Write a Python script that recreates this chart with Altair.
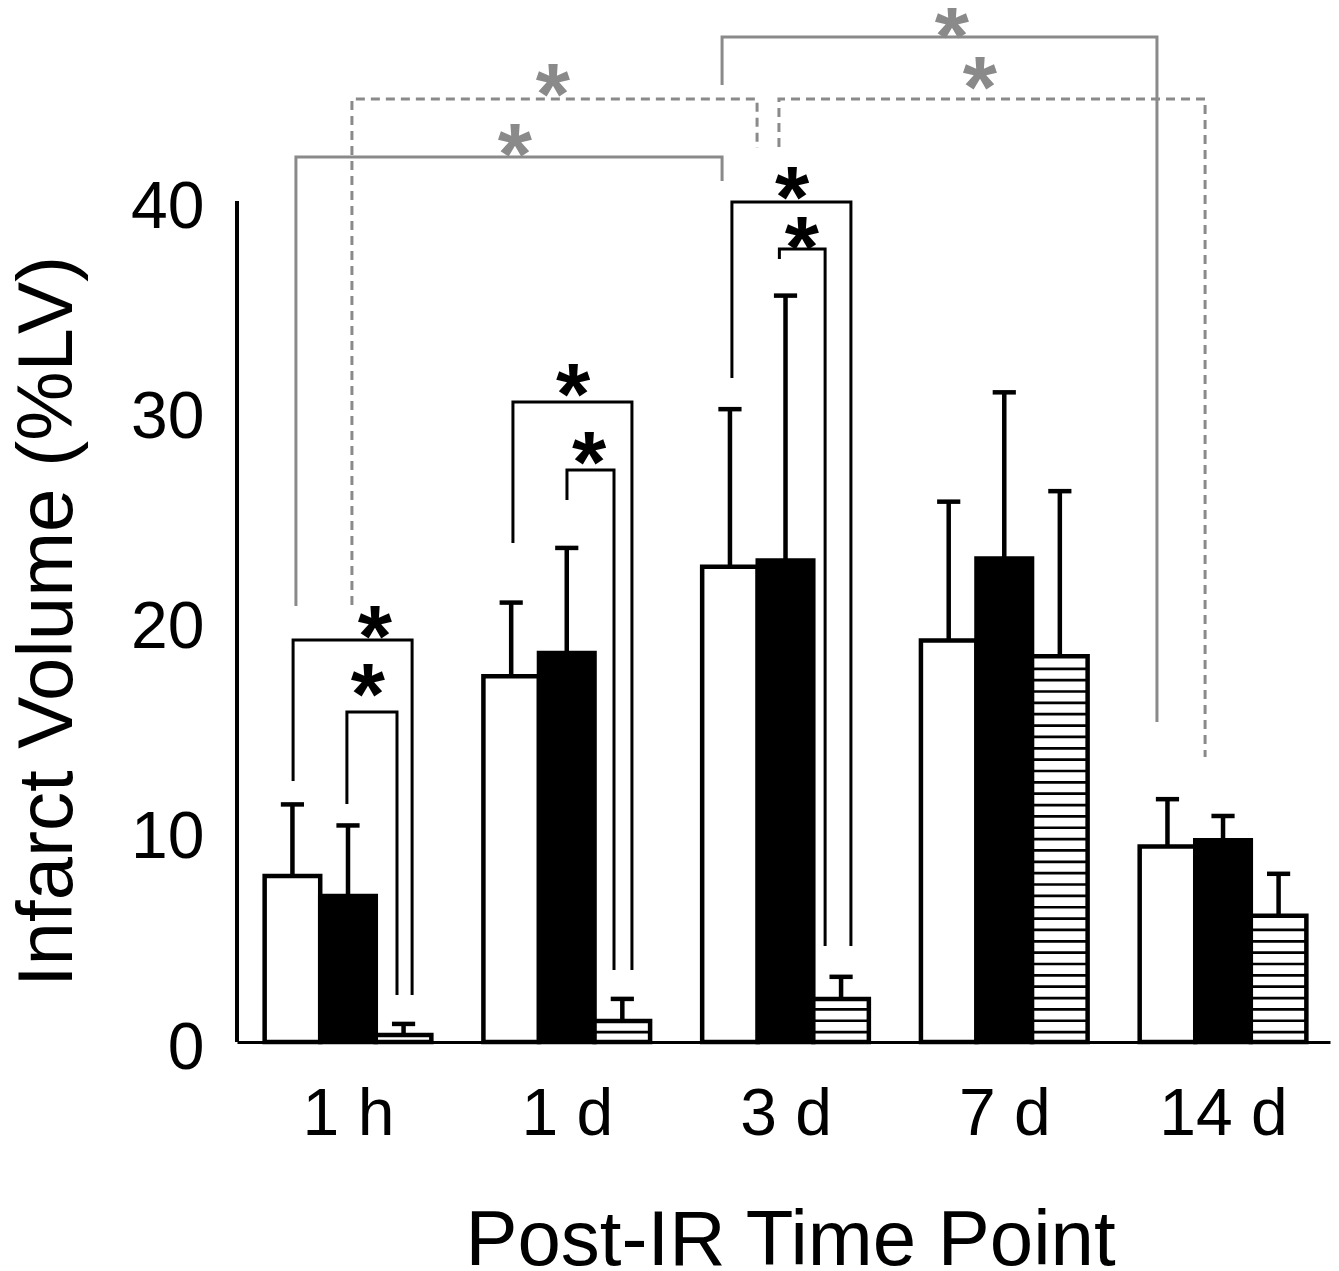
import altair as alt
import pandas as pd

# ---------------- data ----------------
groups = ["1 h", "1 d", "3 d", "7 d", "14 d"]
series_names = ["white", "black", "striped"]
white_mean = [7.9, 17.4, 22.6, 19.1, 9.3]
white_err = [11.3, 20.9, 30.1, 25.7, 11.55]
black_mean = [6.95, 18.5, 22.9, 23.0, 9.6]
black_err = [10.3, 23.5, 35.5, 30.9, 10.75]
striped_mean = [0.33, 1.0, 2.05, 18.35, 6.0]
striped_err = [0.86, 2.05, 3.1, 26.2, 8.0]
y_ticks = [0, 10, 20, 30, 40]

# significance brackets (x in group units, y in %LV)
br_x1 = [-0.251, -0.005, 0.754, 1.001, 1.755, 1.972, -0.238, 0.018, 1.710, 1.970]
br_y1 = [12.41, 11.32, 23.73, 25.78, 31.58, 37.24, 20.74, 20.78, 45.52, 42.57]
br_top = [19.12, 15.70, 30.44, 27.21, 39.95, 37.72, 42.09, 44.85, 47.80, 44.85]
br_x2 = [0.293, 0.224, 1.298, 1.216, 2.299, 2.181, 1.710, 1.870, 3.698, 3.918]
br_y2 = [2.24, 2.24, 3.42, 3.42, 4.57, 4.57, 40.95, 42.52, 15.22, 13.56]
br_style = ["black", "black", "black", "black", "black", "black",
            "gray", "graydash", "gray", "graydash"]

# asterisks
ast_x = [0.123, 0.091, 1.029, 1.102, 2.030, 2.075, 0.763, 0.937, 2.761, 2.889]
ast_y = [19.98, 17.22, 31.49, 28.25, 40.86, 38.48, 42.90, 45.75, 48.51, 46.09]
ast_color = ["black"] * 6 + ["gray"] * 4

# ---------------- layout constants ----------------
BAR_W = 0.254
CAP_HALF = 0.053
STRIPE_START = 0.47
STRIPE_STEP = 0.54
GRAY = "#8a8a8a"
FONT = "Liberation Sans"
AST_SIZE = 88

xscale = alt.Scale(domain=[-0.5074, 4.489], nice=False, zero=False)
yscale = alt.Scale(domain=[0, 49.18], nice=False, zero=False)

label_expr = "[" + ",".join("'" + g + "'" for g in groups) + "][datum.value]"

x_axis = alt.Axis(values=list(range(len(groups))), labelExpr=label_expr,
                  title="Post-IR Time Point", grid=False, ticks=False, tickSize=0,
                  domain=True, domainColor="black", domainWidth=3, labelFontSize=66,
                  labelColor="black", labelPadding=40, labelFlush=False,
                  labelOverlap=False, labelFont=FONT, titleFont=FONT,
                  titleFontSize=78, titleFontWeight="normal",
                  titleColor="black", titleBaseline="alphabetic",
                  titleX=553, titleY=222)
y_axis = alt.Axis(values=y_ticks, title="Infarct Volume (%LV)", grid=False,
                  domain=False, ticks=False, tickSize=0, labelFontSize=66,
                  labelColor="black", labelPadding=33, labelOffset=6,
                  labelFont=FONT, titleFont=FONT,
                  titleFontSize=78, titleFontWeight="normal", titleColor="black",
                  titleAngle=270, titleBaseline="alphabetic", titleAlign="center",
                  titleX=-166, titleY=613)


def X(field):
    return alt.X(field, type="quantitative", scale=xscale, axis=x_axis)


def Y(field):
    return alt.Y(field, type="quantitative", scale=yscale, axis=y_axis)


means = {"white": white_mean, "black": black_mean, "striped": striped_mean}
errs = {"white": white_err, "black": black_err, "striped": striped_err}
offs = {"white": -BAR_W, "black": 0.0, "striped": BAR_W}

rows = []
for gi, g in enumerate(groups):
    for s in series_names:
        c = gi + offs[s]
        rows.append(dict(group=g, series=s, xc=c, xl=c - BAR_W / 2, xr=c + BAR_W / 2,
                         cl=c - CAP_HALF, cr=c + CAP_HALF,
                         y0=0.0, mean=means[s][gi], err=errs[s][gi]))
bars = pd.DataFrame(rows)

stripe_rows = []
for r in rows:
    if r["series"] != "striped":
        continue
    k = 0
    while STRIPE_START + k * STRIPE_STEP < r["mean"] - 0.35:
        stripe_rows.append(dict(xl=r["xl"], xr=r["xr"], ys=STRIPE_START + k * STRIPE_STEP))
        k += 1
stripes = pd.DataFrame(stripe_rows)

pts = []
for i in range(len(br_x1)):
    seq = [(br_x1[i], br_y1[i]), (br_x1[i], br_top[i]), (br_x2[i], br_top[i]), (br_x2[i], br_y2[i])]
    for j, (xx, yy) in enumerate(seq):
        pts.append(dict(bid=i, o=j, bx=xx, by=yy, style=br_style[i]))
brk = pd.DataFrame(pts)

ast = pd.DataFrame(dict(ax=ast_x, ay=ast_y, col=ast_color))

base_bars = alt.Chart(bars)

err_lines = base_bars.mark_rule(color="black", strokeWidth=4.5).encode(
    x=X("xc"), y=Y("mean"), y2="err:Q",
)

err_caps = base_bars.mark_rule(color="black", strokeWidth=4.5).encode(
    x=X("cl"), x2="cr:Q", y=Y("err"),
)

rects = base_bars.mark_rect(stroke="black", strokeWidth=4.5, strokeJoin="miter").encode(
    x=X("xl"), x2="xr:Q", y=Y("y0"), y2="mean:Q",
    fill=alt.Fill("series:N", scale=alt.Scale(domain=series_names,
                                              range=["white", "black", "white"]), legend=None),
)

stripe_layer = alt.Chart(stripes).mark_rule(color="black", strokeWidth=2.7).encode(
    x=X("xl"), x2="xr:Q", y=Y("ys"),
)


def bracket_layer(style, color, dash):
    kw = dict(color=color, strokeWidth=3, strokeJoin="miter", strokeCap="butt")
    if dash:
        kw["strokeDash"] = dash
    return alt.Chart(brk).transform_filter(alt.datum.style == style).mark_line(**kw).encode(
        x=X("bx"), y=Y("by"), detail="bid:N", order="o:Q",
    )


br_black = bracket_layer("black", "black", None)
br_gray = bracket_layer("gray", GRAY, None)
br_dash = bracket_layer("graydash", GRAY, [9, 6])

ast_layer = alt.Chart(ast).mark_text(font=FONT, fontSize=AST_SIZE, fontWeight="bold",
                                     baseline="alphabetic", align="center",
                                     dy=0.50 * AST_SIZE).encode(
    x=X("ax"), y=Y("ay"),
    text=alt.value("*"),
    color=alt.Color("col:N", scale=alt.Scale(domain=["black", "gray"], range=["black", GRAY]),
                    legend=None),
)

yaxis_rule = alt.Chart(pd.DataFrame(dict(a=[0.0], b=[40.0]))).mark_rule(
    color="black", strokeWidth=4).encode(
    x=alt.value(0), y=Y("a"), y2="b:Q",
)

chart = alt.layer(
    err_lines, err_caps, rects, stripe_layer, br_black, br_gray, br_dash, ast_layer, yaxis_rule
).properties(
    width=1093, height=1034,
    autosize=alt.AutoSizeParams(type="none"),
    padding={"left": 229, "top": 0, "right": 1, "bottom": 229},
).configure(font=FONT).configure_view(stroke=None)

chart.save("out.html", embed_options={"renderer": "svg", "actions": False})
